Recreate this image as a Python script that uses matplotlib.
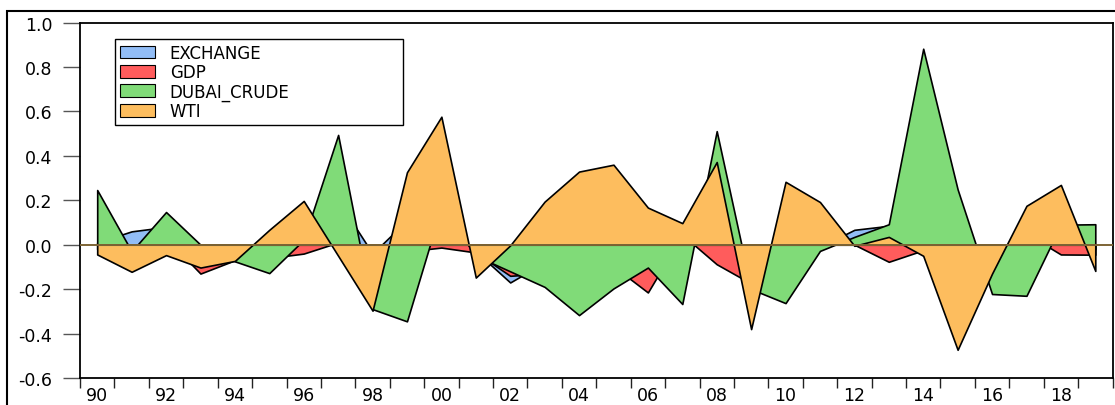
import matplotlib
matplotlib.use("Agg")
import matplotlib.pyplot as plt
from matplotlib.patches import Patch, Rectangle
from matplotlib.ticker import FixedLocator, FuncFormatter

YEARS = list(range(1990, 2020))

EXCHANGE = [0.01, 0.06, 0.08, -0.05, -0.04, -0.02, 0.05, 0.20, -0.04, 0.11,
            0.02, -0.03, -0.17, -0.08, -0.05, -0.05, -0.10, -0.05, 0.10, -0.10,
            -0.10, -0.01, 0.067, 0.085, 0.05, -0.05, -0.05, 0.05, 0.03, -0.02]
GDP = [-0.02, -0.03, 0.03, -0.13, -0.07, -0.06, -0.04, 0.01, -0.02, -0.03,
       -0.013, -0.035, -0.14, -0.13, -0.08, -0.097, -0.215, 0.045, -0.088, -0.175,
       -0.08, 0.01, 0.0, -0.077, -0.025, -0.03, -0.05, 0.05, -0.044, -0.045]
DUBAI_CRUDE = [0.246, -0.03, 0.147, 0.0, -0.075, -0.128, 0.022, 0.494, -0.29, -0.345,
               0.17, -0.05, -0.12, -0.19, -0.317, -0.197, -0.103, -0.267, 0.511, -0.20,
               -0.263, -0.028, 0.035, 0.092, 0.882, 0.249, -0.222, -0.23, 0.09, 0.092]
WTI = [-0.044, -0.122, -0.047, -0.103, -0.073, 0.067, 0.197, -0.05, -0.297, 0.326,
       0.576, -0.148, -0.003, 0.194, 0.329, 0.36, 0.167, 0.097, 0.372, -0.38,
       0.283, 0.192, -0.005, 0.035, -0.05, -0.473, -0.13, 0.175, 0.269, -0.118]

NAMES = ["EXCHANGE", "GDP", "DUBAI_CRUDE", "WTI"]
COLORS = ["#92bdf6", "#ff5c5c", "#80db78", "#fdbd5e"]

plt.rcParams.update({"font.family": ["DejaVu Sans"], "axes.unicode_minus": False})

W, H = 1115, 406
fig = plt.figure(figsize=(W / 100, H / 100), dpi=100, facecolor="white")
ax = fig.add_axes([80 / W, 1 - 379 / H, (1112.5 - 80) / W, (379 - 23.5) / H])

# outer frame of the graph window (only top and left edges fall inside the image)
fig.add_artist(Rectangle((7 / W, -0.2), 1.5, 1.2 - 12 / H, transform=fig.transFigure,
                         fill=False, ec="black", lw=1.5))

# areas stacked in draw order, each filled from zero
x = [y + 0.5 for y in YEARS]
for name, vals, c in zip(NAMES, [EXCHANGE, GDP, DUBAI_CRUDE, WTI], COLORS):
    ax.fill_between(x, 0, vals, facecolor=c, edgecolor="black", linewidth=1.2)
ax.axhline(0, color="#7d6435", lw=1.4, zorder=3)

ax.set_xlim(YEARS[0], YEARS[-1] + 1)
ax.set_ylim(-0.6, 1.0)
ax.set_yticks([-0.6 + 0.2 * k for k in range(9)])
ax.yaxis.set_major_formatter(FuncFormatter(lambda v, p: f"{v:.1f}"))

# labels sit mid-year, tick marks on year boundaries
ax.xaxis.set_major_locator(FixedLocator([y + 0.5 for y in YEARS if y % 2 == 0]))
ax.xaxis.set_major_formatter(FuncFormatter(lambda v, p: f"{int(v) % 100:02d}"))
ax.xaxis.set_minor_locator(FixedLocator(YEARS + [YEARS[-1] + 1]))

ax.tick_params(axis="y", direction="out", length=12, width=1, color="#555555",
               pad=8, labelsize=12.5)
ax.tick_params(axis="x", which="major", length=0, pad=6, labelsize=12.5)
ax.tick_params(axis="x", which="minor", direction="out", length=7, width=1, color="#222222")
for s in ax.spines.values():
    s.set_linewidth(1.3)
    s.set_color("black")

handles = [Patch(facecolor=c, edgecolor="black", linewidth=0.8, label=n) for n, c in zip(NAMES, COLORS)]
ax_w, ax_h = 1112.5 - 80, 379 - 23.5
leg = ax.legend(handles=handles, loc="upper left", mode="expand",
                bbox_to_anchor=((115 - 80) / ax_w, (379 - 124) / ax_h, (403 - 115) / ax_w, (124 - 40) / ax_h),
                borderaxespad=0, fontsize=12, fancybox=False, framealpha=1, edgecolor="black",
                handlelength=2.1, handleheight=0.8, handletextpad=0.9, labelspacing=0.08,
                borderpad=0.28)
leg.get_frame().set_linewidth(1.0)

fig.savefig("out.png", dpi=100, facecolor="white")
